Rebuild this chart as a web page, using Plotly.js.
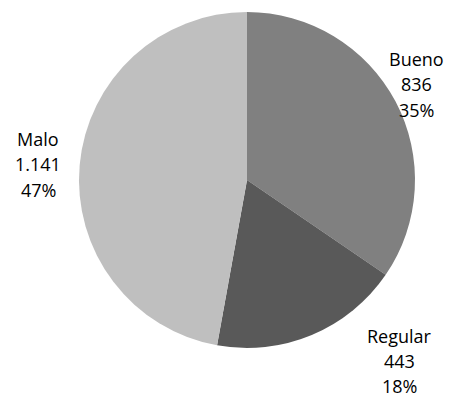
<!DOCTYPE html>
<html>
<head>
<meta charset="utf-8">
<script src="https://cdn.plot.ly/plotly-3.0.1.min.js"></script>
<style>html,body{margin:0;padding:0;background:#fff;}#chart{width:450px;height:399px;}</style>
</head>
<body>
<div id="chart"></div>
<script>
const categories = ["Bueno", "Regular", "Malo"];
const values = [836, 443, 1141];
const percentLabels = ["35%", "18%", "47%"];
const colors = ["#808080", "#595959", "#bfbfbf"];

function fmt(n) {
  return String(n).replace(/\B(?=(\d{3})+(?!\d))/g, ".");
}

// label block centers (x) and first-line cap center (y), pixels
const labelPos = [
  {x: 416, y: 58, gap: 25.5},
  {x: 399, y: 335, gap: 25},
  {x: 38, y: 138, gap: 25.5}
];

const annotations = [];
categories.forEach((c, i) => {
  const lines = [c, fmt(values[i]), percentLabels[i]];
  lines.forEach((t, j) => {
    const py = labelPos[i].y + j * labelPos[i].gap + 1;
    annotations.push({
      text: t,
      xref: "paper", yref: "paper",
      x: labelPos[i].x / 450,
      y: 1 - py / 399,
      xanchor: "center", yanchor: "middle",
      showarrow: false,
      borderpad: 0,
      font: {family: "Open Sans, sans-serif", size: 18, color: "#000"}
    });
  });
});

const data = [{
  type: "pie",
  labels: categories,
  values: values,
  sort: false,
  direction: "clockwise",
  rotation: 0,
  marker: {colors: colors, line: {width: 0}},
  textinfo: "none",
  hoverinfo: "label+value+percent",
  domain: {x: [79/450, 415/450], y: [1 - 348/399, 1 - 12/399]}
}];

const layout = {
  width: 450, height: 399,
  margin: {l: 0, r: 0, t: 0, b: 0},
  showlegend: false,
  paper_bgcolor: "#fff",
  annotations: annotations
};

Plotly.newPlot("chart", data, layout, {displayModeBar: false, staticPlot: true});
</script>
</body>
</html>
